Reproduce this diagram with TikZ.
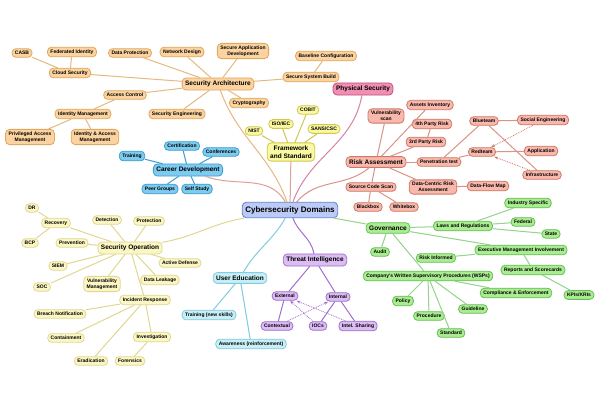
\documentclass[tikz,border=0pt]{standalone}
\usepackage{fontspec}
\setmainfont{Liberation Sans}
\usetikzlibrary{arrows.meta}
\definecolor{oraF}{HTML}{FBD3A0}\definecolor{oraD}{HTML}{E0A860}
\definecolor{yelF}{HTML}{FAF8A0}\definecolor{yelD}{HTML}{D0C850}
\definecolor{sopF}{HTML}{FBF6C4}\definecolor{sopD}{HTML}{E0D890}
\definecolor{bluF}{HTML}{7ECBEF}\definecolor{bluD}{HTML}{3E9FD0}
\definecolor{cyaF}{HTML}{C8EEF6}\definecolor{cyaD}{HTML}{80CCE0}
\definecolor{pinF}{HTML}{F08FB2}\definecolor{pinD}{HTML}{C05080}
\definecolor{redF}{HTML}{F8B8AC}\definecolor{redD}{HTML}{D07868}
\definecolor{grnF}{HTML}{AAEC92}\definecolor{grnD}{HTML}{66C056}
\definecolor{purF}{HTML}{DCBDF2}\definecolor{purD}{HTML}{A070D0}
\definecolor{cenF}{HTML}{BCCBF5}\definecolor{cenD}{HTML}{6080D0}
\tikzset{
  box/.style={rounded corners=4pt,line width=0.8pt,inner xsep=3pt,inner ysep=2.5pt,
    align=center,font=\fontsize{5}{5.6}\selectfont\bfseries},
  ora/.style={box,fill=oraF,draw=oraD},
  yel/.style={box,fill=yelF,draw=yelD},
  sop/.style={box,fill=sopF,draw=sopD},
  blu/.style={box,fill=bluF,draw=bluD},
  cya/.style={box,fill=cyaF,draw=cyaD},
  pin/.style={box,fill=pinF,draw=pinD},
  red/.style={box,fill=redF,draw=redD},
  grn/.style={box,fill=grnF,draw=grnD},
  pur/.style={box,fill=purF,draw=purD},
  big/.style={font=\fontsize{6.5}{7.5}\selectfont\bfseries,inner ysep=3pt},
  link/.style={line width=1pt,line cap=round},
  hint/.style={densely dotted,line width=0.8pt,-{Stealth[length=4pt]}},
}
\begin{document}
\begin{tikzpicture}[x=1pt,y=-1pt]
\useasboundingbox[fill=white] (0,0) rectangle (600,400);

% Centre
\node[box,fill=cenF,draw=cenD,font=\fontsize{8}{9}\selectfont\bfseries,inner ysep=4pt] (cd) at (290,210) {Cybersecurity Domains};

% Security Architecture
\node[ora,big] (sa) at (218,84) {Security Architecture};
\node[ora] (cs) at (70,73) {Cloud Security};
\node[ora] (casb) at (22,53) {CASB};
\node[ora] (fi) at (72,52) {Federated Identity};
\node[ora] (dp) at (130,53) {Data Protection};
\node[ora] (nd) at (182,52) {Network Design};
\node[ora] (sad) at (243,51) {Secure Application\\Development};
\node[ora] (bc) at (326,56) {Baseline Configuration};
\node[ora] (ssb) at (311,77) {Secure System Build};
\node[ora] (ac) at (125,95) {Access Control};
\node[ora] (cry) at (249,103) {Cryptography};
\node[ora] (se) at (177,114) {Security Engineering};
\node[ora] (im) at (83,114) {Identity Management};
\node[ora] (pam) at (30,137) {Privileged Access\\Management};
\node[ora] (iam) at (95,137) {Identity \& Access\\Management};
\begin{scope}[oraD!80,link]
  \draw (cd) to[out=110,in=-70] (sa);
  \draw (sa) -- (cs); \draw (cs) -- (casb); \draw (cs) -- (fi);
  \draw (sa) -- (dp); \draw (sa) -- (nd); \draw (sa) -- (sad);
  \draw (sa) -- (ssb); \draw (ssb) -- (bc);
  \draw (sa) -- (ac); \draw (sa) -- (cry); \draw (sa) -- (se);
  \draw (ac) -- (im); \draw (im) -- (pam); \draw (im) -- (iam);
\end{scope}

% Career Development
\node[blu,big] (car) at (188,170) {Career Development};
\node[blu] (trn) at (132,156) {Training};
\node[blu] (cer) at (182,146) {Certification};
\node[blu] (con) at (221,152) {Conferences};
\node[blu] (pg) at (160,189) {Peer Groups};
\node[blu] (ss) at (197,189) {Self Study};
\begin{scope}[bluD,link]
  \draw (car) -- (trn); \draw (car) -- (cer); \draw (car) -- (con);
  \draw (car) -- (pg); \draw (car) -- (ss);
\end{scope}
\draw[link,redD!70] (cd) to[out=120,in=-20] (car);

% Framework and Standard
\node[yel,big] (fs) at (291,152) {Framework\\and Standard};
\node[yel] (nist) at (254,131) {NIST};
\node[yel] (iso) at (281,124) {ISO/IEC};
\node[yel] (cob) at (308,110) {COBIT};
\node[yel] (sans) at (324,129) {SANS/CSC};
\begin{scope}[yelD,link]
  \draw (fs) -- (nist); \draw (fs) -- (iso); \draw (fs) -- (cob); \draw (fs) -- (sans);
\end{scope}
\draw[link,redD!70] (cd) -- (fs);

% Physical Security
\node[pin,big] (ps) at (363,89) {Physical Security};
\draw[link,pinD!70] (cd) to[out=70,in=-100] (ps);

% Risk Assessment
\node[red,big] (ra) at (376,162) {Risk Assessment};
\node[red] (vs) at (386,116) {Vulnerability\\scan};
\node[red] (ai) at (430,105) {Assets Inventory};
\node[red] (p4) at (432,124) {4th Party Risk};
\node[red] (p3) at (426,142) {3rd Party Risk};
\node[red] (pt) at (439,162) {Penetration test};
\node[red] (bt) at (484,121) {Blueteam};
\node[red] (soe) at (543,120) {Social Engineering};
\node[red] (rt) at (482,152) {Redteam};
\node[red] (app) at (541,151) {Application};
\node[red] (inf) at (542,175) {Infrastructure};
\node[red] (scs) at (371,187) {Source Code Scan};
\node[red] (dcr) at (433,187) {Data-Centric Risk\\Assessment};
\node[red] (dfm) at (488,186) {Data-Flow Map};
\node[red] (bb) at (368,207) {Blackbox};
\node[red] (wb) at (404,207) {Whitebox};
\begin{scope}[redD!80,link]
  \draw (cd) to[out=50,in=-140] (ra);
  \draw (ra) -- (vs); \draw (ra) -- (ai); \draw (ra) -- (p3); \draw (p3) -- (p4);
  \draw (ra) -- (pt); \draw (pt) -- (bt); \draw (pt) -- (rt);
  \draw (bt) -- (soe); \draw (bt) -- (inf); \draw (rt) -- (app);
  \draw (ra) -- (scs); \draw (scs) -- (bb); \draw (scs) -- (wb);
  \draw (ra) -- (dcr); \draw (dcr) -- (dfm);
\end{scope}
\draw[hint,redD] (soe) -- (rt);
\draw[hint,redD] (inf) -- (rt);

% Governance
\node[grn,big] (gov) at (388,228) {Governance};
\node[grn] (lr) at (463,226) {Laws and Regulations};
\node[grn] (ind) at (528,203) {Industry Specific};
\node[grn] (fed) at (523,222) {Federal};
\node[grn] (st) at (551,234) {State};
\node[grn] (aud) at (380,252) {Audit};
\node[grn] (ri) at (436,258) {Risk Informed};
\node[grn] (emi) at (521,250) {Executive Management Involvement};
\node[grn] (rs) at (533,270) {Reports and Scorecards};
\node[grn] (kpi) at (579,295) {KPIs/KRIs};
\node[grn] (wsp) at (428,276) {Company's Written Supervisory Procedures (WSPs)};
\node[grn] (ce) at (516,293) {Compliance \& Enforcement};
\node[grn] (pol) at (403,301) {Policy};
\node[grn] (pro) at (429,316) {Procedure};
\node[grn] (gui) at (473,309) {Guideline};
\node[grn] (sta) at (451,333) {Standard};
\begin{scope}[grnD!70,link]
  \draw (cd) -- (gov);
  \draw (gov) -- (lr); \draw (lr) -- (ind); \draw (lr) -- (fed); \draw (lr) -- (st);
  \draw (gov) -- (aud); \draw (gov) -- (emi); \draw (emi) -- (ri); \draw (emi) -- (rs); \draw (rs) -- (kpi);
  \draw (gov) -- (wsp); \draw (wsp) -- (ce); \draw (wsp) -- (pol); \draw (wsp) -- (pro);
  \draw (wsp) -- (gui); \draw (wsp) -- (sta);
\end{scope}

% Threat Intelligence
\node[pur,big] (ti) at (315,260) {Threat Intelligence};
\node[pur] (ext) at (285,296) {External};
\node[pur] (int) at (338,297) {Internal};
\node[pur] (ctx) at (277,326) {Contextual};
\node[pur] (ioc) at (318,326) {IOCs};
\node[pur] (sha) at (358,326) {Intel. Sharing};
\begin{scope}[purD,link]
  \draw (cd) to[out=-70,in=100] (ti);
  \draw (ti) -- (ext); \draw (ti) -- (int);
  \draw (ext) -- (ctx); \draw (int) -- (ioc); \draw (int) -- (sha);
\end{scope}
\draw[hint,purD] (ctx) -- (int);
\draw[hint,purD] (ioc) -- (ext);
\draw[hint,purD] (sha) -- (ext);

% User Education
\node[cya,big] (ue) at (240,278) {User Education};
\node[cya] (tns) at (209,315) {Training (new skills)};
\node[cya] (awr) at (251,344) {Awareness (reinforcement)};
\begin{scope}[cyaD,link]
  \draw (cd) to[out=-120,in=60] (ue);
  \draw (ue) -- (tns); \draw (ue) -- (awr);
\end{scope}

% Security Operation
\node[sop,big] (so) at (130,248) {Security Operation};
\node[sop] (dr) at (32,208) {DR};
\node[sop] (rec) at (56,223) {Recovery};
\node[sop] (bcp) at (30,243) {BCP};
\node[sop] (prv) at (72,243) {Prevention};
\node[sop] (det) at (107,220) {Detection};
\node[sop] (prt) at (149,221) {Protection};
\node[sop] (siem) at (58,266) {SIEM};
\node[sop] (soc) at (42,287) {SOC};
\node[sop] (vm) at (102,284) {Vulnerability\\Management};
\node[sop] (ad) at (180,263) {Active Defense};
\node[sop] (dl) at (160,280) {Data Leakage};
\node[sop] (ir) at (145,300) {Incident Response};
\node[sop] (bn) at (60,314) {Breach Notification};
\node[sop] (cnt) at (66,338) {Containment};
\node[sop] (inv) at (152,337) {Investigation};
\node[sop] (era) at (91,361) {Eradication};
\node[sop] (for) at (130,361) {Forensics};
\begin{scope}[sopD,link]
  \draw (cd) to[out=-170,in=10] (so);
  \draw (so) -- (rec); \draw (rec) -- (dr); \draw (rec) -- (bcp);
  \draw (so) -- (prv); \draw (so) -- (det); \draw (so) -- (prt);
  \draw (so) -- (siem); \draw (so) -- (soc); \draw (so) -- (vm);
  \draw (so) -- (ad); \draw (so) -- (dl); \draw (so) -- (ir);
  \draw (ir) -- (bn); \draw (ir) -- (cnt); \draw (ir) -- (inv);
  \draw (ir) -- (era); \draw (inv) -- (for);
\end{scope}
\end{tikzpicture}
\end{document}
